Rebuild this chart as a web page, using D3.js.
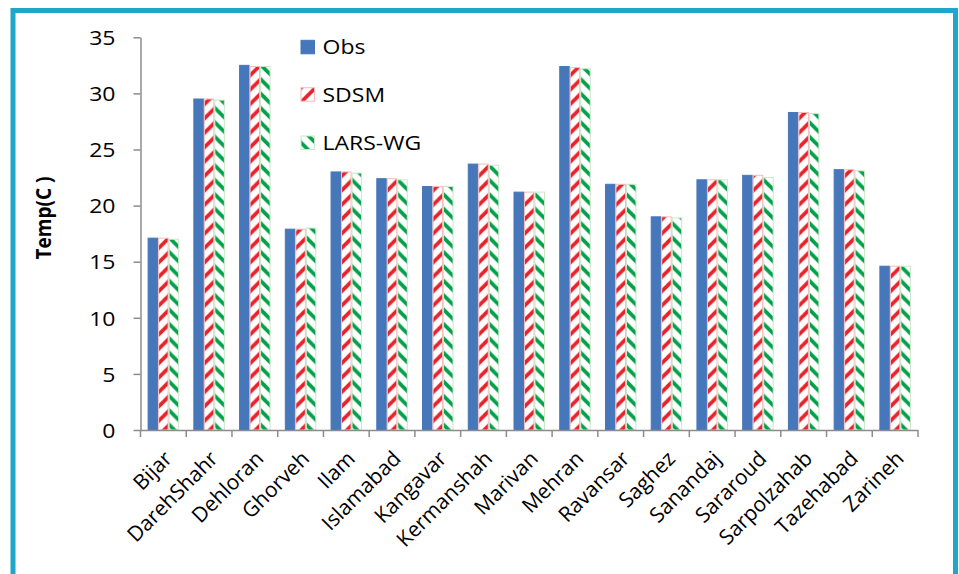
<!DOCTYPE html>
<html>
<head>
<meta charset="utf-8">
<script src="https://cdn.jsdelivr.net/npm/d3@7"></script>
<style>
  html, body { margin: 0; padding: 0; background: #fff; }
  svg { display: block; }
  text { font-family: "Open Sans", sans-serif; fill: #000; }
</style>
</head>
<body>
<svg id="chart" width="959" height="574"></svg>
<script>
const categories = ["Bijar","DarehShahr","Dehloran","Ghorveh","Ilam","Islamabad","Kangavar","Kermanshah","Marivan","Mehran","Ravansar","Saghez","Sanandaj","Sararoud","Sarpolzahab","Tazehabad","Zarineh"];
const seriesNames = ["Obs","SDSM","LARS-WG"];
const obsValues   = [17.1, 29.5, 32.5, 17.9, 23.0, 22.4, 21.7, 23.7, 21.2, 32.4, 21.9, 19.0, 22.3, 22.7, 28.3, 23.2, 14.6];
const sdsmValues  = [17.1, 29.5, 32.4, 17.9, 23.0, 22.4, 21.7, 23.7, 21.2, 32.3, 21.9, 19.0, 22.3, 22.7, 28.3, 23.2, 14.6];
const larsValues  = [17.0, 29.4, 32.4, 18.0, 22.9, 22.3, 21.7, 23.6, 21.2, 32.2, 21.9, 18.9, 22.3, 22.5, 28.2, 23.1, 14.6];
const yTicks = [0, 5, 10, 15, 20, 25, 30, 35];
const yLabel = "Temp(C )";

const svg = d3.select("#chart");
const SX = 1.15; // horizontal text stretch
const FS = "20px";

// Frame
svg.append("rect").attr("x", 13).attr("y", 10.5).attr("width", 942.5).attr("height", 600)
  .attr("fill", "none").attr("stroke", "#1fa7ca").attr("stroke-width", 5);

// Patterns
const defs = svg.append("defs");
const P = 14.4;
function stripePattern(id, color, dir) {
  const p = defs.append("pattern").attr("id", id).attr("patternUnits", "userSpaceOnUse")
    .attr("width", P).attr("height", P);
  p.append("rect").attr("width", P).attr("height", P).attr("fill", "#fff");
  const g = p.append("g").attr("stroke", color).attr("stroke-width", 3.8).attr("stroke-linecap", "square");
  if (dir === "up") {
    g.append("line").attr("x1", 0).attr("y1", P).attr("x2", P).attr("y2", 0);
    g.append("line").attr("x1", -P / 2).attr("y1", P / 2).attr("x2", P / 2).attr("y2", -P / 2);
    g.append("line").attr("x1", P / 2).attr("y1", 3 * P / 2).attr("x2", 3 * P / 2).attr("y2", P / 2);
  } else {
    g.append("line").attr("x1", 0).attr("y1", 0).attr("x2", P).attr("y2", P);
    g.append("line").attr("x1", -P / 2).attr("y1", P / 2).attr("x2", P / 2).attr("y2", 3 * P / 2);
    g.append("line").attr("x1", P / 2).attr("y1", -P / 2).attr("x2", 3 * P / 2).attr("y2", P / 2);
  }
}
stripePattern("pRed", "#e8222b", "up");
stripePattern("pGreen", "#03a04b", "down");

const fills = { "Obs": "#4677ba", "SDSM": "url(#pRed)", "LARS-WG": "url(#pGreen)" };
const strokes = { "Obs": "#4677ba", "SDSM": "#f5bcbc", "LARS-WG": "#cde7c6" };

// Scales
const x0 = d3.scaleBand().domain(categories).range([140.5, 918]).paddingInner(0.311).paddingOuter(0.1555);
const xEdge = d3.scaleBand().domain(categories).range([140.5, 918]).padding(0);
const x1 = d3.scaleBand().domain(seriesNames).range([0, x0.bandwidth()]);
const y = d3.scaleLinear().domain([0, 35]).range([430, 37.3]);

const seriesData = { "Obs": obsValues, "SDSM": sdsmValues, "LARS-WG": larsValues };

// Bars
const groups = svg.append("g").selectAll("g").data(categories).join("g")
  .attr("transform", c => `translate(${x0(c)},0)`);
groups.selectAll("rect").data((c, i) => seriesNames.map(s => ({ s, v: seriesData[s][i] })))
  .join("rect")
  .attr("x", d => x1(d.s) + 0.5)
  .attr("y", d => y(d.v))
  .attr("width", x1.bandwidth() - 1)
  .attr("height", d => y(0) - y(d.v))
  .attr("fill", d => fills[d.s])
  .attr("stroke", d => strokes[d.s])
  .attr("stroke-width", 1);

// Y axis
const yAxis = svg.append("g").attr("transform", "translate(140.5,0)")
  .call(d3.axisLeft(y).tickValues(yTicks).tickSize(7).tickSizeOuter(0));
yAxis.select(".domain").attr("stroke", "#8c8c8c").attr("stroke-width", 1.5);
yAxis.selectAll(".tick line").attr("stroke", "#8c8c8c").attr("stroke-width", 1.5);
yAxis.selectAll(".tick text")
  .attr("x", 0).attr("dy", "0.36em")
  .attr("transform", `translate(-25,0) scale(${SX},1)`)
  .attr("text-anchor", "end")
  .style("font-family", "'Open Sans', sans-serif")
  .style("font-size", FS).attr("fill", "#000");

// X axis
const xAxisG = svg.append("g");
xAxisG.append("line").attr("x1", 140.5).attr("x2", 918).attr("y1", 430.5).attr("y2", 430.5)
  .attr("stroke", "#8c8c8c").attr("stroke-width", 1.5);
const edges = categories.map(c => xEdge(c)).concat([xEdge(categories[categories.length - 1]) + xEdge.bandwidth()]);
xAxisG.selectAll("line.tk").data(edges).join("line").attr("class", "tk")
  .attr("x1", d => d).attr("x2", d => d).attr("y1", 430).attr("y2", 437)
  .attr("stroke", "#8c8c8c").attr("stroke-width", 1.5);
xAxisG.selectAll("text").data(categories).join("text")
  .attr("transform", c => `translate(${xEdge(c) + xEdge.bandwidth() / 2 + 10},460) rotate(-45)`)
  .attr("text-anchor", "end")
  .style("font-size", "21px")
  .text(c => c);

// Y label
svg.append("text")
  .attr("transform", `translate(43,218) scale(${SX},1) rotate(-90)`)
  .attr("text-anchor", "middle").attr("dy", "0.35em")
  .style("font-size", "19px").style("font-weight", "bold")
  .text(yLabel);

// Legend
const legendBaselines = [54.3, 101.7, 150];
const lg = svg.append("g").selectAll("g").data(seriesNames).join("g");
lg.append("rect").attr("x", 301).attr("y", (d, i) => legendBaselines[i] - 14).attr("width", 13.5).attr("height", 13.5)
  .attr("fill", d => fills[d]).attr("stroke", d => strokes[d]).attr("stroke-width", 1);
lg.append("text")
  .attr("transform", (d, i) => `translate(322.5,${legendBaselines[i]}) scale(${SX},1)`)
  .style("font-size", FS)
  .text(d => d);
</script>
</body>
</html>
